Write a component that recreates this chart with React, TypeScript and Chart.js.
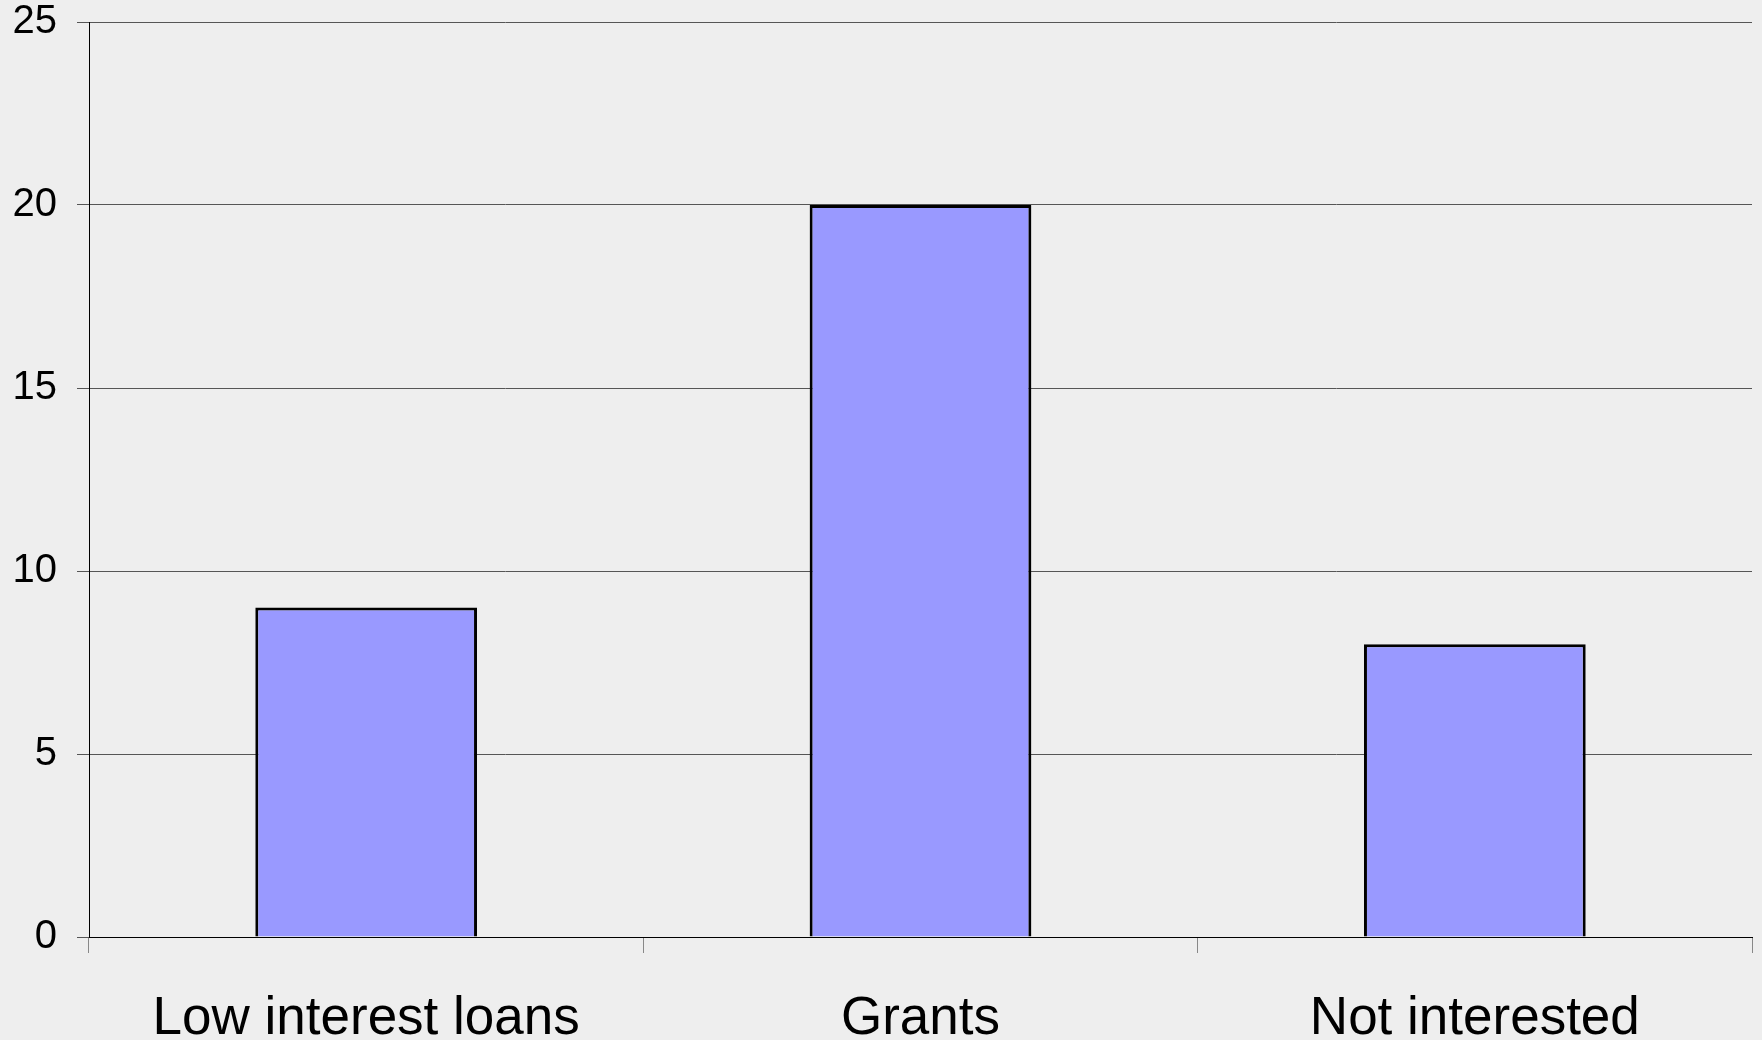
import React, { useEffect, useRef } from "react";
import { Chart, registerables } from "chart.js";

Chart.register(...registerables);

const categories = ["Low interest loans", "Grants", "Not interested"];
const values = [9, 20, 8];
const yTicks = [0, 5, 10, 15, 20, 25];

export default function App() {
  const ref = useRef<HTMLCanvasElement | null>(null);

  useEffect(() => {
    document.body.style.margin = "0";
    const canvas = ref.current;
    if (!canvas) return;
    const chart = new Chart(canvas, {
      type: "bar",
      data: {
        labels: categories,
        datasets: [
          {
            data: values,
            backgroundColor: "#9999FF",
            borderColor: "#000000",
            borderWidth: 3,
            barPercentage: 0.4,
            categoryPercentage: 1,
          },
        ],
      },
      options: {
        responsive: false,
        animation: false,
        devicePixelRatio: 1,
        layout: { padding: { left: 0, right: 10, top: 22, bottom: 0 } },
        plugins: { legend: { display: false }, tooltip: { enabled: false } },
        scales: {
          x: {
            offset: true,
            afterFit: (axis: any) => {
              axis.height = 103;
              axis.paddingLeft = 0;
              axis.paddingRight = 0;
            },
            border: { display: true, color: "#000000", width: 1 },
            grid: {
              offset: true,
              drawOnChartArea: false,
              drawTicks: true,
              tickLength: 16,
              color: "#888888",
              lineWidth: 1,
            },
            ticks: {
              color: "#000000",
              padding: 40,
              maxRotation: 0,
              autoSkip: false,
              font: { family: "'Liberation Sans', Arial, sans-serif", size: 53, lineHeight: 1.0 },
            },
          },
          y: {
            min: 0,
            max: 25,
            afterBuildTicks: (axis: any) => {
              axis.ticks = yTicks.map((v) => ({ value: v }));
            },
            afterFit: (axis: any) => {
              axis.width = 89;
              axis.paddingTop = 0;
              axis.paddingBottom = 0;
            },
            border: { display: true, color: "#000000", width: 1 },
            grid: {
              color: "#555555",
              lineWidth: 1,
              drawTicks: true,
              tickLength: 12,
            },
            ticks: {
              color: "#000000",
              padding: 20,
              font: { family: "'Liberation Sans', Arial, sans-serif", size: 40, lineHeight: 1.1 },
            },
          },
        },
      },
    });
    return () => chart.destroy();
  }, []);

  return (
    <div
      style={{
        position: "fixed",
        left: 0,
        top: 0,
        width: 1762,
        height: 1040,
        overflow: "hidden",
        background: "#EEEEEE",
      }}
    >
      <canvas ref={ref} width={1762} height={1040} style={{ display: "block" }} />
    </div>
  );
}
